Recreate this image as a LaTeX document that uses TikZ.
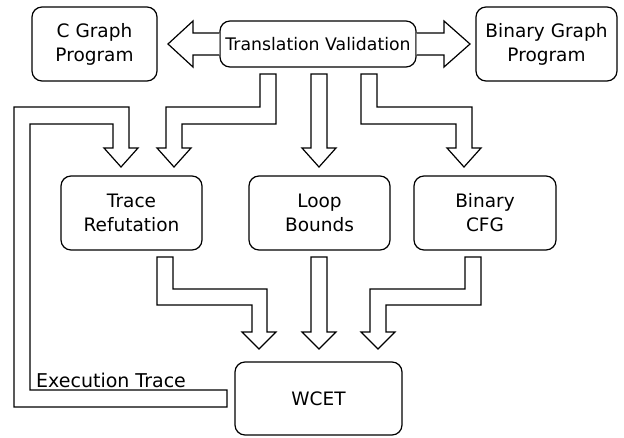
\documentclass[tikz,border=0pt]{standalone}
\usepackage{fontspec}
\setmainfont{DejaVu Sans}
\begin{document}
\begin{tikzpicture}[x=1pt,y=-1pt,
  box/.style={draw, rounded corners=10pt, line width=1.2pt, align=center, inner sep=0pt,
    font=\fontsize{18.5}{24}\selectfont},
  blk/.style={draw, fill=white, line width=1.2pt, line join=miter}]
\useasboundingbox (0,0) rectangle (624,437);
% boxes
\node[box, minimum width=125pt, minimum height=74pt] (cg) at (94.5,44) {C Graph\\Program};
\node[box, minimum width=196pt, minimum height=46pt, font=\fontsize{17.3}{20}\selectfont] (tv) at (318,44) {Translation Validation};
\node[box, minimum width=141pt, minimum height=74pt] (bg) at (546.5,44) {Binary Graph\\Program};
\node[box, minimum width=141pt, minimum height=74pt] (tr) at (131.5,213) {Trace\\Refutation};
\node[box, minimum width=141pt, minimum height=74pt] (lb) at (319.5,213) {Loop\\Bounds};
\node[box, minimum width=142pt, minimum height=74pt] (cfg) at (485,213) {Binary\\CFG};
\node[box, minimum width=167pt, minimum height=73pt] (wcet) at (318.5,398.5) {WCET};
% horizontal block arrows from Translation Validation
\draw[blk] (tv.west |- 0,33) -- (193,33) -- (193,21) -- (168,44) -- (193,67) -- (193,55) -- (tv.west |- 0,55);
\draw[blk] (tv.east |- 0,33) -- (444,33) -- (444,21) -- (470,44) -- (444,67) -- (444,55) -- (tv.east |- 0,55);
% from Translation Validation down
\draw[blk] (260,74) -- (276,74) -- (276,124) -- (182,124) -- (182,148) -- (191,148) -- (174,167) -- (157,148) -- (166,148) -- (166,107) -- (260,107) -- cycle;
\draw[blk] (311,74) -- (327,74) -- (327,148) -- (336,148) -- (319,167) -- (302,148) -- (311,148) -- cycle;
\draw[blk] (361,74) -- (377,74) -- (377,107) -- (472,107) -- (472,148) -- (481,148) -- (464,167) -- (447,148) -- (456,148) -- (456,124) -- (361,124) -- cycle;
% execution trace loop
\draw[blk] (227,407) -- (14,407) -- (14,107) -- (129,107) -- (129,148) -- (138,148) -- (121,167) -- (104,148) -- (113,148) -- (113,124) -- (30,124) -- (30,390) -- (227,390) -- cycle;
\node[anchor=base west, inner sep=0pt, font=\fontsize{19}{21}\selectfont] (et) at (36,387) {Execution Trace};
% to WCET
\draw[blk] (157,257) -- (173,257) -- (173,289) -- (267,289) -- (267,332) -- (276,332) -- (259,349) -- (242,332) -- (252,332) -- (252,305) -- (157,305) -- cycle;
\draw[blk] (311,257) -- (327,257) -- (327,332) -- (336,332) -- (319,349) -- (302,332) -- (311,332) -- cycle;
\draw[blk] (465,257) -- (481,257) -- (481,305) -- (386,305) -- (386,332) -- (395,332) -- (378,349) -- (361,332) -- (370,332) -- (370,289) -- (465,289) -- cycle;
\end{tikzpicture}
\end{document}
